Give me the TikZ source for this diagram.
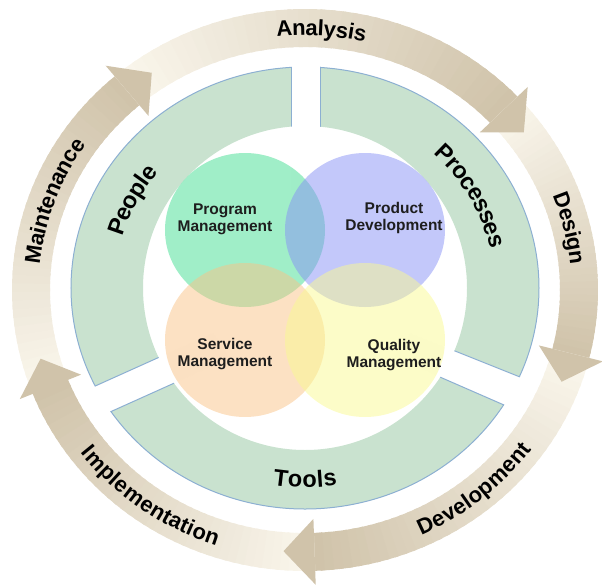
\documentclass[tikz,border=0pt]{standalone}
\usepackage{fontspec}
\setmainfont{Liberation Sans}
\usetikzlibrary{decorations.text}
\definecolor{ringgreen}{RGB}{201,226,207}
\definecolor{ringblue}{RGB}{140,175,210}
\definecolor{arrtan}{RGB}{208,195,170}
\definecolor{arrcream}{RGB}{250,246,236}
\definecolor{vgreen}{RGB}{65,221,145}
\definecolor{vblue}{RGB}{135,145,245}
\definecolor{vorange}{RGB}{249,195,135}
\definecolor{vyellow}{RGB}{249,249,145}
\definecolor{labeldark}{RGB}{30,30,30}
\newcommand\ringfont{\fontsize{22}{22}\selectfont\bfseries}
\newcommand\segfont{\fontsize{23.5}{23.5}\selectfont\bfseries}
% arrow body with gradient from cream (tail) to tan (head)
\newcommand\arrowbody[2]{%
  \foreach \i in {0,...,39}{%
    \pgfmathsetmacro\angA{#1+(#2-#1)*\i/40}%
    \pgfmathsetmacro\angB{#1+(#2-#1)*(\i+1.4)/40}%
    \pgfmathtruncatemacro\pc{100*\i/39}%
    \fill[arrtan!\pc!arrcream] (\angA:293pt and 281pt)
      arc[start angle=\angA, end angle=\angB, x radius=293pt, y radius=281pt]
      -- (\angB:255pt and 243pt)
      arc[start angle=\angB, end angle=\angA, x radius=255pt, y radius=243pt]
      -- cycle;
  }}
\newcommand\arrowtip[1]{%
  \pgfmathsetmacro\tipang{#1-6.5}%
  \fill[arrtan] (#1:307pt and 295pt) -- (\tipang:274pt and 262pt) -- (#1:241pt and 229pt) -- cycle;}
\tikzset{
  venn/.style={font=\fontsize{15.5}{17}\selectfont\bfseries, text=labeldark, align=center, inner sep=0pt},
  cutline/.style={draw=ringblue, line width=1pt}
}
\begin{document}
\begin{tikzpicture}[x=1pt,y=1pt]
\useasboundingbox (-305,-294) rectangle (297,290);

% ---- outer cycle of arrows ----
\arrowbody{201.7}{130.5}
\arrowbody{130.5}{43.5}
\arrowbody{43.5}{-14}
\arrowbody{-14}{-88}
\arrowbody{-88}{-158.3}
\arrowtip{130.5}
\arrowtip{43.5}
\arrowtip{-14}
\arrowtip{-88}
\arrowtip{-158.3}

% labels on the outer cycle
\path[decorate, decoration={text along path, text={|\ringfont|Analysis}, text align=center, raise=-7.5pt}]
  (126.5:274pt and 262pt) arc[start angle=126.5, end angle=46.5, x radius=274pt, y radius=262pt];
\path[decorate, decoration={text along path, text={|\ringfont|Design}, text align=center, raise=-7.5pt}]
  (53.5:274pt and 262pt) arc[start angle=53.5, end angle=-26.5, x radius=274pt, y radius=262pt];
\path[decorate, decoration={text along path, text={|\ringfont|Maintenance}, text align=center, raise=-7.5pt}]
  (200:274pt and 262pt) arc[start angle=200, end angle=120, x radius=274pt, y radius=262pt];
\path[decorate, decoration={text along path, text={|\ringfont|Development}, text align=center, raise=-7.5pt}]
  (-90.5:274pt and 262pt) arc[start angle=-90.5, end angle=-10.5, x radius=274pt, y radius=262pt];
\path[decorate, decoration={text along path, text={|\ringfont|Implementation}, text align=center, raise=-7.5pt}]
  (194:274pt and 262pt) arc[start angle=194, end angle=274, x radius=274pt, y radius=262pt];

% ---- green ring of three segments ----
\fill[ringgreen, even odd rule] (0,2) ellipse [x radius=234, y radius=221] (0,2) ellipse [x radius=162, y radius=162];
\draw[ringblue, line width=1pt] (0,2) ellipse [x radius=234, y radius=221];
\begin{scope}
  \clip (0,2) ellipse [x radius=238, y radius=225];
  \fill[white] (-14,100) rectangle (15,240);
  \fill[white] (-242,-110.5) -- (-92,-43) -- (-75,-68) -- (-225,-135.5) -- cycle;
  \fill[white] (105,-43) -- (242.5,-98) -- (226.5,-127) -- (89,-67) -- cycle;
\end{scope}
\begin{scope}[even odd rule]
  \clip (0,2) ellipse [x radius=234.5, y radius=221.5] (0,2) ellipse [x radius=162, y radius=162];
  \draw[cutline] (-14,100) -- (-14,240);
  \draw[cutline] (15,100) -- (15,240);
  \draw[cutline] (-92,-43) -- (-242,-110.5);
  \draw[cutline] (-75,-68) -- (-225,-135.5);
  \draw[cutline] (105,-43) -- (242.5,-98);
  \draw[cutline] (89,-67) -- (226.5,-127);
\end{scope}

\begin{scope}[shift={(0,2)}]
\path[decorate, decoration={text along path, text={|\segfont|People}, text align=center, raise=-8.5pt}]
  (192.5:198pt and 191pt) arc[start angle=192.5, end angle=112.5, x radius=198pt, y radius=191pt];
\path[decorate, decoration={text along path, text={|\segfont|Processes}, text align=center, raise=-8.5pt}]
  (69.5:198pt and 191pt) arc[start angle=69.5, end angle=-10.5, x radius=198pt, y radius=191pt];
\path[decorate, decoration={text along path, text={|\segfont|Tools}, text align=center, raise=-8.5pt}]
  (-130:198pt and 191pt) arc[start angle=-130, end angle=-50, x radius=198pt, y radius=191pt];
\end{scope}

% ---- Venn diagram ----
\fill[vgreen, fill opacity=0.5] (-60,60) ellipse [x radius=80, y radius=77];
\fill[vblue, fill opacity=0.5] (60,60) ellipse [x radius=80, y radius=77];
\fill[vorange, fill opacity=0.5] (-60,-50) ellipse [x radius=80, y radius=77];
\fill[vyellow, fill opacity=0.5] (60,-50) ellipse [x radius=80, y radius=77];

\node[venn] (pm) at (-80,71) {Program\\Management};
\node[venn] (pd) at (89,72) {Product\\Development};
\node[venn] (sm) at (-80,-64) {Service\\Management};
\node[venn] (qm) at (89,-65) {Quality\\Management};
\end{tikzpicture}
\end{document}
